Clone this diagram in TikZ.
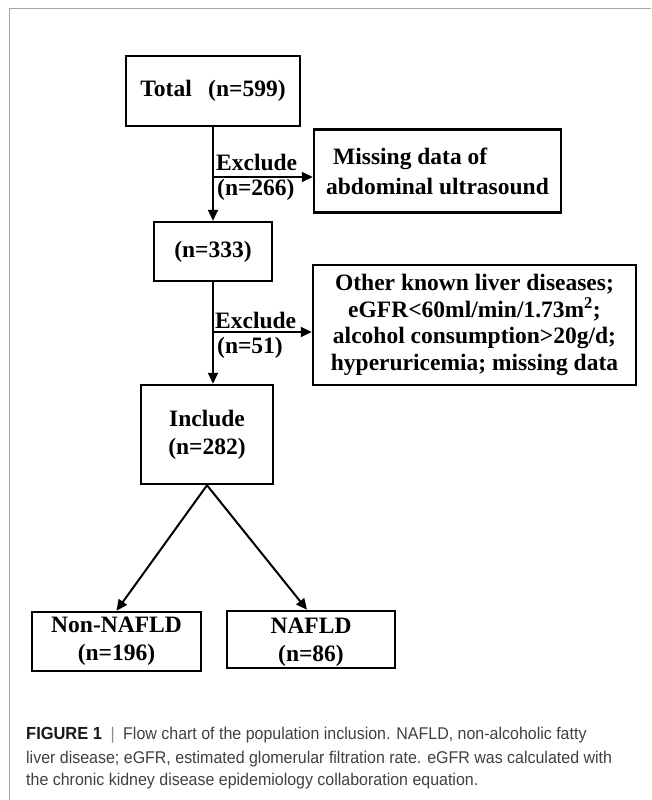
\documentclass[tikz,border=0pt]{standalone}
\usepackage{fontspec}
\setmainfont{Liberation Serif}
\newfontfamily\capfont[FakeStretch=0.94]{Liberation Sans}
\usetikzlibrary{arrows.meta,calc}
\begin{document}
\begin{tikzpicture}[x=1pt,y=-1pt,
  box/.style={draw=black,line width=2.5pt,inner sep=0pt,align=center,
    font=\bfseries\fontsize{23.5}{28}\selectfont},
  lbl/.style={inner sep=0pt,anchor=west,font=\bfseries\fontsize{23.5}{26}\selectfont},
  arr/.style={line width=2pt,-{Triangle[length=11pt,width=10pt]}},
  captxt/.style={inner sep=0pt,anchor=base west,text=black!75,font=\capfont\fontsize{17}{20}\selectfont},
  framestyle/.style={draw=black!35,line width=1pt}]
\useasboundingbox (0,0) rectangle (651,800);
\draw[framestyle] (9,800) -- (9,9) -- (651,9);

\node[box,minimum width=174,minimum height=70] (tot) at (213,91) {Total\hspace{0.7em}(n=599)};
\node[box,minimum width=247,minimum height=83,align=left] (miss) at (437.5,171)
  {\hspace*{7pt}Missing data of\\[2pt]abdominal ultrasound};
\node[box,minimum width=118,minimum height=59] (n333) at (213,251.5) {(n=333)};
\node[box,minimum width=323,minimum height=120,font=\bfseries\fontsize{23.5}{26.7}\selectfont] (oth) at (474.5,325)
  {Other known liver diseases;\\eGFR<60ml/min/1.73m\textsuperscript{2};\\alcohol consumption>20g/d;\\hyperuricemia; missing data};
\node[box,minimum width=132,minimum height=99] (inc) at (207,434.5) {Include\\(n=282)};
\node[box,minimum width=169,minimum height=59] (nn) at (116.5,641.5) {Non-NAFLD\\(n=196)};
\node[box,minimum width=168,minimum height=57] (naf) at (311,639.5) {\rule{0pt}{20pt}NAFLD\\(n=86)};

\coordinate (j1) at (213,177);
\coordinate (j2) at (213,332);
\draw[arr] (tot.south) -- (n333.north);
\draw[arr] (j1) -- (j1 -| miss.west);
\draw[arr] (n333.south) -- (n333.south |- inc.north);
\draw[arr] (j2) -- (j2 -| oth.west);
\draw[arr] (inc.south) -- (nn.north);
\draw[arr] (inc.south) -- ([xshift=-4pt]naf.north);

\node[lbl] (ex1) at (216,162) {Exclude};
\node[lbl] (n266) at (217,190) {(n=266)};
\node[lbl] (ex2) at (215,320) {Exclude};
\node[lbl] (n51) at (217,348) {(n=51)};

\node[captxt] (c1) at (26,739) {{\fontsize{17.5}{20}\selectfont\textbf{\color{black!90}FIGURE 1}}\hspace{0.5em}{\color{black!45}|}\hspace{0.5em}Flow chart of the population inclusion. NAFLD, non-alcoholic fatty};
\node[captxt] (c2) at (26,763) {liver disease; eGFR, estimated glomerular filtration rate. eGFR was calculated with};
\node[captxt] (c3) at (26,785) {the chronic kidney disease epidemiology collaboration equation.};
\end{tikzpicture}
\end{document}
